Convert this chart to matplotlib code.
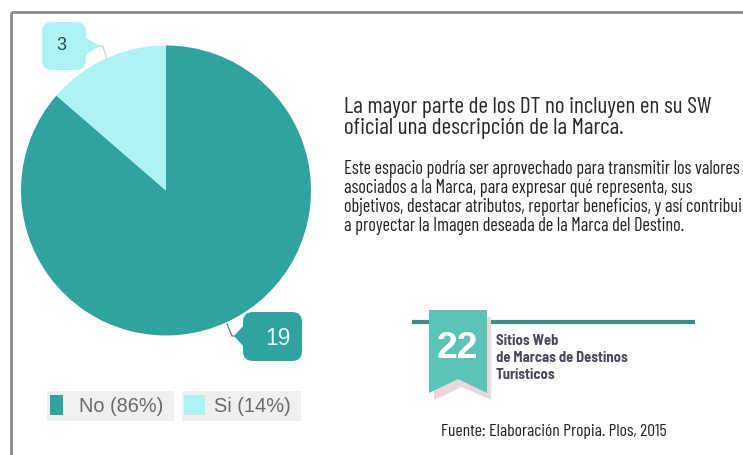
import matplotlib
matplotlib.use("Agg")
import matplotlib.pyplot as plt
from matplotlib.patches import FancyBboxPatch, Polygon, Rectangle

# ---- data ----
categories = ["No", "Si"]
counts = [19, 3]
percents = [86, 14]
colors = ["#2fa3a0", "#aef3f3"]
legend_labels = [f"{c} ({p}%)" for c, p in zip(categories, percents)]

title_lines = ["La mayor parte de los DT no incluyen en su SW",
               "oficial una descripción de la Marca."]
body_lines = ["Este espacio podría ser aprovechado para transmitir los valores",
              "asociados a la Marca, para expresar qué representa, sus",
              "objetivos, destacar atributos, reportar beneficios, y así contribuir",
              "a proyectar la Imagen deseada de la Marca del Destino."]
badge_number = "22"
badge_lines = ["Sitios Web", "de Marcas de Destinos", "Turísticos"]
source_text = "Fuente: Elaboración Propia. Plos, 2015"

MAIN = ["Barlow Condensed", "DejaVu Sans"]
BADGE = ["Barlow Semi Condensed", "DejaVu Sans"]
SANS = ["Liberation Sans", "DejaVu Sans"]

W, H = 743, 456
fig = plt.figure(figsize=(W / 100, H / 100), dpi=100)
fig.patch.set_facecolor("white")
renderer = fig.canvas.get_renderer()

ov = fig.add_axes([0, 0, 1, 1])
ov.set_xlim(0, W)
ov.set_ylim(H, 0)
ov.axis("off")


def fit_size(text, family, target_px, weight="normal"):
    t = fig.text(0, 0, text, fontsize=10, family=family, weight=weight)
    w = t.get_window_extent(renderer).width
    t.remove()
    return 10 * target_px / w


# frame
ov.plot([11, W], [13, 13], color="#8a8a8a", lw=2, solid_capstyle="butt")
ov.plot([11, 11], [13, H], color="#8a8a8a", lw=2, solid_capstyle="butt")

# pie
cx, cy, r = 166, 191.5, 145
pie_ax = fig.add_axes([(cx - r) / W, (H - cy - r) / H, 2 * r / W, 2 * r / H])
pie_ax.pie(counts, colors=colors, startangle=90, counterclock=False,
           radius=1, wedgeprops=dict(linewidth=0))
pie_ax.set_xlim(-1, 1)
pie_ax.set_ylim(-1, 1)
pie_ax.set_aspect("auto")
pie_ax.axis("off")

# callout for Si
ov.add_patch(FancyBboxPatch((42, 23), 44, 48, boxstyle="round,pad=0,rounding_size=10",
                            fc=colors[1], ec="none", zorder=5))
ov.add_patch(Polygon([[84, 38], [100, 47], [84, 57]], closed=True, fc=colors[1], ec="none", zorder=5))
ov.plot([99, 103, 106], [47, 47, 58], color="#cfd8d8", lw=1, zorder=4)
ov.text(61, 46, str(counts[1]), fontsize=13, family=SANS, color="#2a4a4f",
        ha="center", va="center", zorder=6)

# callout for No
ov.add_patch(FancyBboxPatch((243, 313), 59, 49, boxstyle="round,pad=0,rounding_size=10",
                            fc=colors[0], ec="none", zorder=5))
ov.add_patch(Polygon([[245, 325], [234, 337], [245, 349]], closed=True, fc=colors[0], ec="none", zorder=5))
ov.plot([227, 232, 236], [325, 337, 337], color="#6a8a8a", lw=1, zorder=4)
ov.text(278, 339, str(counts[0]), fontsize=fit_size(str(counts[0]), SANS, 25), family=SANS,
        color="#e8f6f6", ha="center", va="center", zorder=6)

# legend
leg_boxes = [(47, 392, 127, 30), (182, 392, 119, 30)]
sq = [(50, 396, 13, 20), (184, 396, 21, 20)]
txt_x = [121, 252]
txt_w = [84, 77]
for i in range(len(categories)):
    bx, by, bw, bh = leg_boxes[i]
    ov.add_patch(Rectangle((bx, by), bw, bh, fc="#efefef", ec="none"))
    sx, sy, sw, sh = sq[i]
    ov.add_patch(Rectangle((sx, sy), sw, sh, fc=colors[i], ec="none"))
    ov.text(txt_x[i], 407, legend_labels[i], fontsize=fit_size(legend_labels[i], SANS, txt_w[i]),
            family=SANS, color="#6a6a6a", ha="center", va="center")

# title + body
fs_title = fit_size(title_lines[0], MAIN, 369)
for i, line in enumerate(title_lines):
    ov.text(344, 108 + i * 21, line, fontsize=fs_title, family=MAIN, color="#2a2a2a",
            ha="left", va="center")
fs_body = fit_size(body_lines[0], MAIN, 396)
for i, line in enumerate(body_lines):
    ov.text(344, 169 + i * 19, line, fontsize=fs_body, family=MAIN, color="#222222",
            ha="left", va="center")

# badge ribbon
ov.plot([412, 695], [323, 323], color="#3b8f82", lw=3, solid_capstyle="butt", zorder=2)
ov.add_patch(Polygon([[434, 318], [491, 318], [491, 401], [462, 388], [434, 401]],
                     closed=True, fc="#ead7dc", ec="none", zorder=3))
ov.add_patch(Polygon([[429, 311], [487, 311], [487, 394], [458, 380], [429, 394]],
                     closed=True, fc="#5cc3b7", ec="none", zorder=4))
ov.text(458, 349, badge_number, fontsize=fit_size(badge_number, SANS, 41, "bold"), family=SANS,
        weight="bold", color="white", ha="center", va="center", zorder=5)
fs_badge = fit_size(badge_lines[1], BADGE, 132, "bold")
for i, line in enumerate(badge_lines):
    ov.text(496, 341 + i * 17, line, fontsize=fs_badge, family=BADGE, weight="bold",
            color="#4a4a5c", ha="left", va="center", zorder=5)

ov.text(554, 432, source_text, fontsize=fit_size(source_text, MAIN, 225), family=MAIN,
        color="#222222", ha="center", va="center")

fig.savefig("out.png", dpi=100)
